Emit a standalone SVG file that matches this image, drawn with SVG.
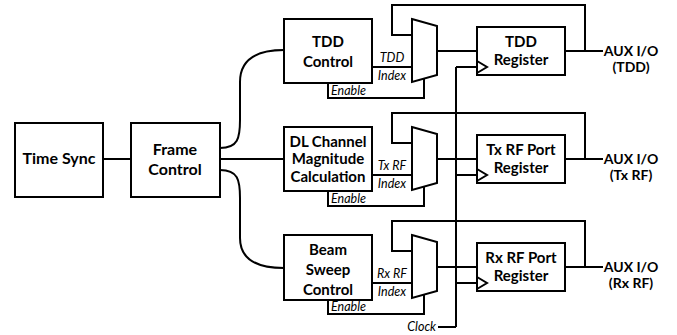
<svg xmlns="http://www.w3.org/2000/svg" width="677" height="335" viewBox="0 0 677 335">
<style>
.box{fill:#fff;stroke:#000;stroke-width:2}
.w{fill:none;stroke:#000;stroke-width:2}
.t{font-family:Lato,"Liberation Sans",sans-serif;font-weight:bold;font-size:15px;text-anchor:middle;fill:#000}
.big{font-size:16px}
.aux{font-size:14px}
.i{font-family:Lato,"Liberation Sans",sans-serif;font-style:italic;font-size:12.5px;fill:#000}
.c{text-anchor:middle}
</style>
<rect width="677" height="335" fill="#fff"/>
<g id="connectors">
<line class="w" x1="103" y1="159" x2="131" y2="159"/>
<line class="w" x1="220" y1="159" x2="284" y2="159"/>
<path class="w" d="M220,148 C238,148 240,138 240,120 L240,82 C240,60 255,50 284,50"/>
<path class="w" d="M220,170 C238,170 240,180 240,198 L240,238 C240,258 255,268 284,268"/>
<line class="w" x1="456" y1="67" x2="456" y2="327"/>
<polyline class="w" points="438,327 456,327"/>
<text class="i" x="436" y="331" text-anchor="end">Clock</text>
</g>
<g id="time-sync"><rect class="box" x="15" y="123" width="88" height="74"/><text class="t big" x="59" y="164">Time Sync</text></g>
<g id="frame-control"><rect class="box" x="131" y="123" width="89" height="74"/><text class="t big" x="175" y="155">Frame</text><text class="t big" x="175" y="175">Control</text></g>

<g id="row-tdd">
<g id="tdd-control"><rect class="box" x="284" y="19" width="88" height="64"/><text class="t" x="328" y="46.5">TDD</text><text class="t" x="328" y="66.5">Control</text></g>
<line class="w" x1="372" y1="67" x2="412" y2="67"/>
<text class="i c" x="392" y="62">TDD</text><text class="i c" x="392" y="79.5">Index</text>
<polyline class="w" points="328,83 328,98 424,98 424,78.6"/>
<text class="i" x="331" y="95">Enable</text>
<polygon id="mux-tdd" class="box" points="412,19 437,26 437,75 412,82"/>
<polyline class="w" points="412,35 392,35 392,5 585,5 585,51"/>
<line class="w" x1="437" y1="51" x2="477" y2="51"/>
<line class="w" x1="456" y1="67" x2="477" y2="67"/>
<g id="tdd-register"><rect class="box" x="477" y="27" width="88" height="48"/><polyline class="w" points="477,61 487,67 477,73"/><text class="t" x="521" y="46.5">TDD</text><text class="t" x="521" y="65">Register</text></g>
<line class="w" x1="565" y1="51" x2="603" y2="51"/>
<text class="t aux" x="631" y="56">AUX I/O</text><text class="t aux" x="631" y="72">(TDD)</text>
</g>

<g id="row-tx">
<g id="dl-channel"><rect class="box" x="284" y="127" width="88" height="64"/><text class="t" x="328" y="146.5">DL Channel</text><text class="t" x="328" y="164">Magnitude</text><text class="t" x="328" y="181.5">Calculation</text></g>
<line class="w" x1="372" y1="175" x2="412" y2="175"/>
<text class="i c" x="392" y="170">Tx RF</text><text class="i c" x="392" y="187.5">Index</text>
<polyline class="w" points="328,191 328,206 424,206 424,186.6"/>
<text class="i" x="331" y="203">Enable</text>
<polygon id="mux-tx" class="box" points="412,127 437,134 437,183 412,190"/>
<polyline class="w" points="412,143 392,143 392,113 585,113 585,159"/>
<line class="w" x1="437" y1="159" x2="477" y2="159"/>
<line class="w" x1="456" y1="175" x2="477" y2="175"/>
<g id="tx-register"><rect class="box" x="477" y="135" width="88" height="48"/><polyline class="w" points="477,169 487,175 477,181"/><text class="t" x="521" y="154.5">Tx RF Port</text><text class="t" x="521" y="173">Register</text></g>
<line class="w" x1="565" y1="159" x2="603" y2="159"/>
<text class="t aux" x="631" y="164">AUX I/O</text><text class="t aux" x="631" y="180">(Tx RF)</text>
</g>

<g id="row-rx">
<g id="beam-sweep"><rect class="box" x="284" y="235" width="88" height="65"/><text class="t" x="328" y="255">Beam</text><text class="t" x="328" y="275">Sweep</text><text class="t" x="328" y="295">Control</text></g>
<line class="w" x1="372" y1="283" x2="412" y2="283"/>
<text class="i c" x="392" y="278">Rx RF</text><text class="i c" x="392" y="295.5">Index</text>
<polyline class="w" points="328,300 328,314 424,314 424,294.6"/>
<text class="i" x="331" y="311">Enable</text>
<polygon id="mux-rx" class="box" points="412,235 437,242 437,291 412,298"/>
<polyline class="w" points="412,251 392,251 392,221 585,221 585,267"/>
<line class="w" x1="437" y1="267" x2="477" y2="267"/>
<line class="w" x1="456" y1="283" x2="477" y2="283"/>
<g id="rx-register"><rect class="box" x="477" y="243" width="88" height="48"/><polyline class="w" points="477,277 487,283 477,289"/><text class="t" x="521" y="262.5">Rx RF Port</text><text class="t" x="521" y="281">Register</text></g>
<line class="w" x1="565" y1="267" x2="603" y2="267"/>
<text class="t aux" x="631" y="272">AUX I/O</text><text class="t aux" x="631" y="288">(Rx RF)</text>
</g>
</svg>
